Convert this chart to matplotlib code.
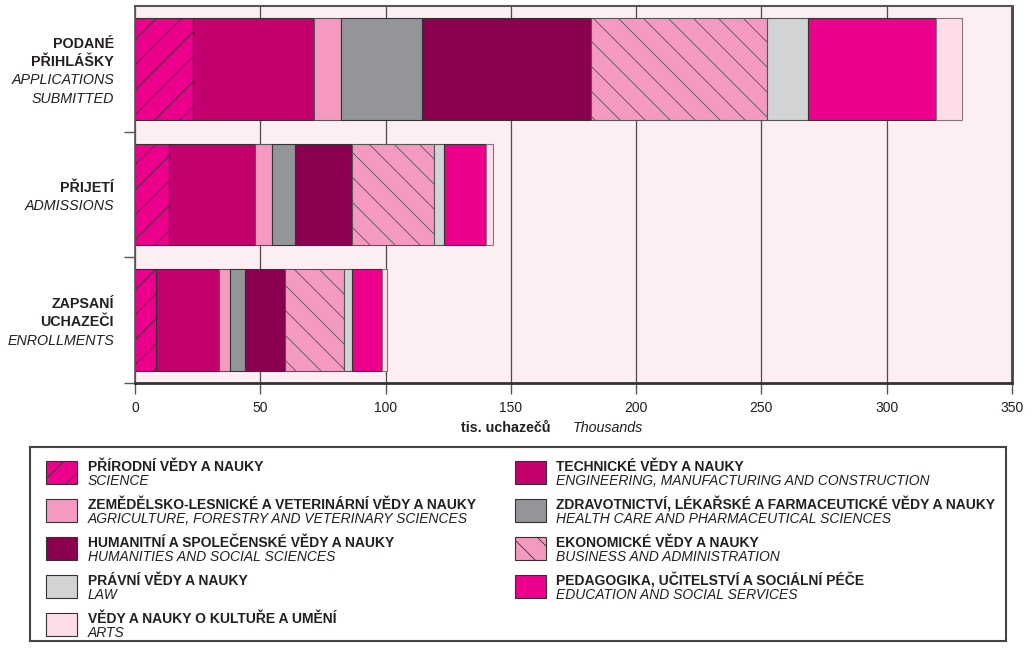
import matplotlib
matplotlib.use('Agg')
import matplotlib.pyplot as plt
from matplotlib.patches import Rectangle
import matplotlib.transforms as mtransforms
from matplotlib.backend_bases import GraphicsContextBase

plt.rcParams['font.family'] = ['Liberation Sans', 'DejaVu Sans']
plt.rcParams['hatch.linewidth'] = 0.6

# slightly denser hatching than matplotlib's default (style only)
_orig_hatch_path = GraphicsContextBase.get_hatch_path
def _hatch_path(self, density=8.0):
    return _orig_hatch_path(self, 8.0)
GraphicsContextBase.get_hatch_path = _hatch_path

# ---------------- data ----------------
stages_cz = [['PODANÉ', 'PŘIHLÁŠKY'], ['PŘIJETÍ'], ['ZAPSANÍ', 'UCHAZEČI']]
stages_en = [['APPLICATIONS', 'SUBMITTED'], ['ADMISSIONS'], ['ENROLLMENTS']]

science = [23.0, 13.4, 8.5]
technical = [48.3, 34.6, 24.9]
agriculture = [10.8, 6.8, 4.4]
health = [32.6, 9.0, 6.1]
humanities = [67.1, 22.8, 15.8]
business = [70.4, 32.8, 23.7]
law = [16.5, 4.0, 3.1]
education = [50.8, 16.8, 11.9]
arts = [10.5, 2.8, 2.3]

series_cz = ['PŘÍRODNÍ VĚDY A NAUKY', 'TECHNICKÉ VĚDY A NAUKY',
             'ZEMĚDĚLSKO-LESNICKÉ A VETERINÁRNÍ VĚDY A NAUKY',
             'ZDRAVOTNICTVÍ, LÉKAŘSKÉ A FARMACEUTICKÉ VĚDY A NAUKY',
             'HUMANITNÍ A SPOLEČENSKÉ VĚDY A NAUKY', 'EKONOMICKÉ VĚDY A NAUKY',
             'PRÁVNÍ VĚDY A NAUKY', 'PEDAGOGIKA, UČITELSTVÍ A SOCIÁLNÍ PÉČE',
             'VĚDY A NAUKY O KULTUŘE A UMĚNÍ']
series_en = ['SCIENCE', 'ENGINEERING, MANUFACTURING AND CONSTRUCTION',
             'AGRICULTURE, FORESTRY AND VETERINARY SCIENCES',
             'HEALTH CARE AND PHARMACEUTICAL SCIENCES',
             'HUMANITIES AND SOCIAL SCIENCES', 'BUSINESS AND ADMINISTRATION',
             'LAW', 'EDUCATION AND SOCIAL SERVICES', 'ARTS']
series_vals = [science, technical, agriculture, health, humanities,
               business, law, education, arts]

xticks = [0, 50, 100, 150, 200, 250, 300, 350]
xlabel_cz = 'tis. uchazečů'
xlabel_en = 'Thousands'

# ---------------- styles ----------------
colors = ['#EC008C', '#C4006F', '#F49AC1', '#939598', '#8C0050',
          '#F49AC1', '#D1D3D4', '#EC008C', '#FEDDE8']
hatches = ['/', None, None, None, None, '\\', None, None, None]
edges = ['#333333', '#333333', '#555555', '#333333', '#333333',
         '#555555', '#555555', '#333333', '#85737F']
TXT = '#231F20'

W, H = 1035, 648
fig = plt.figure(figsize=(W / 100, H / 100), dpi=100)
fig.patch.set_facecolor('white')

ax = fig.add_axes([135 / W, 1 - 383 / H, (1012 - 135) / W, (383 - 6) / H])
ax.set_facecolor('#FDEEF4')
ax.set_xlim(0, 350)
ax.set_ylim(2.5, -0.5)
ax.set_xticks(xticks)
ax.set_xticklabels([str(t) for t in xticks], fontsize=10, color=TXT)
ax.xaxis.grid(True, color='#4a4a4a', lw=0.9)
ax.set_axisbelow(True)
ax.set_yticks([0.5, 1.5, 2.5])
ax.set_yticklabels([])
ax.tick_params(axis='x', direction='out', length=8, width=1, color='#555555', pad=5)
ax.tick_params(axis='y', direction='out', length=8, width=1, color='#555555')

for side, lw, c in [('bottom', 2.0, '#333333'), ('left', 1.2, '#555555'),
                    ('top', 1.5, '#555555'), ('right', 2.0, '#444444')]:
    ax.spines[side].set_linewidth(lw)
    ax.spines[side].set_color(c)

ypos = [0, 1, 2]
left = [0.0, 0.0, 0.0]
for vals, col, h, ec in zip(series_vals, colors, hatches, edges):
    ax.barh(ypos, vals, left=left, height=0.81, color=col, edgecolor=ec,
            hatch=h, linewidth=0.8, zorder=2)
    left = [l + v for l, v in zip(left, vals)]

# category labels (x in axes fraction, y in data)
trans = mtransforms.blended_transform_factory(ax.transAxes, ax.transData)
step = 18.4 / 126.0
for i, (cz, en) in enumerate(zip(stages_cz, stages_en)):
    lines = [(t, 'bold', 'normal') for t in cz] + [(t, 'normal', 'italic') for t in en]
    n = len(lines)
    y0 = i + 0.018 - (n - 1) / 2 * step
    for k, (t, w, s) in enumerate(lines):
        ax.text(-21 / 877, y0 + k * step, t, transform=trans, ha='right', va='center',
                fontsize=10.3, fontweight=w, fontstyle=s, color=TXT)

# overlay in pixel coordinates for axis title and legend
ov = fig.add_axes([0, 0, 1, 1])
ov.set_xlim(0, W)
ov.set_ylim(H, 0)
ov.axis('off')
ov.patch.set_visible(False)

ov.text(550.5, 428, xlabel_cz, ha='right', va='center', fontsize=10.3,
        fontweight='bold', color=TXT)
ov.text(572.5, 428, xlabel_en, ha='left', va='center', fontsize=10.3,
        fontstyle='italic', color=TXT)

# legend box
ov.add_patch(Rectangle((29.5, 447), 976, 194, fill=False, edgecolor='#444444', lw=1.5))
col_x = [46, 515]
text_x = [88, 556]
for idx in range(len(series_vals)):
    r, c = divmod(idx, 2)
    top = 461 + 38 * r
    ov.add_patch(Rectangle((col_x[c], top), 31, 22.5, facecolor=colors[idx],
                           edgecolor='#333333', hatch=hatches[idx], lw=0.8))
    ov.text(text_x[c], top + 6, series_cz[idx], ha='left', va='center',
            fontsize=10, fontweight='bold', color=TXT)
    ov.text(text_x[c], top + 20, series_en[idx], ha='left', va='center',
            fontsize=10, fontstyle='italic', color=TXT)

fig.savefig('out.png', dpi=100)
